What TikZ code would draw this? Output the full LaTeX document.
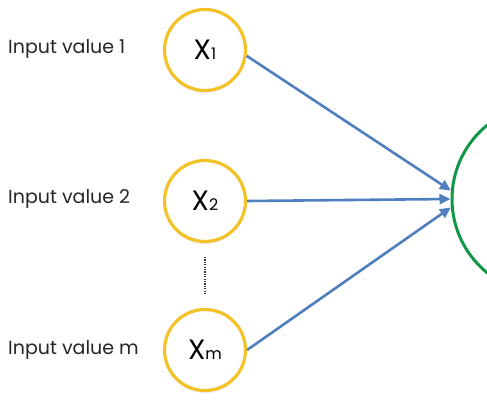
\documentclass[tikz,border=0pt]{standalone}
\usepackage{fontspec}
\setsansfont{Poppins}
\usetikzlibrary{arrows.meta,shadows}
\definecolor{nodeyellow}{RGB}{243,194,40}
\definecolor{arrowblue}{RGB}{79,127,190}
\definecolor{outgreen}{RGB}{18,150,72}
\tikzset{
  inputnode/.style={circle, draw=nodeyellow, line width=3.2pt, fill=white, minimum size=81pt, inner sep=0pt,
    drop shadow={opacity=0.15, shadow xshift=0pt, shadow yshift=-2.5pt}},
  outnode/.style={circle, draw=outgreen, line width=3pt, minimum size=190pt, inner sep=0pt},
  inlabel/.style={anchor=west, inner sep=0pt, font=\sffamily\fontsize{19}{19}\selectfont, text=black!85},
  conn/.style={draw=arrowblue, line width=2.6pt, -{Triangle[length=11pt,width=10pt]}},
  dots/.style={draw=black!80, line width=1.4pt, dash pattern=on 1.2pt off 1.2pt}
}
\newcommand{\xlab}[1]{{\fontsize{28}{28}\selectfont X}{\fontsize{16}{16}\selectfont #1}}
\begin{document}
\begin{tikzpicture}[x=1pt,y=-1pt]
\useasboundingbox (0,0) rectangle (487,402);
\clip (0,0) rectangle (487,402);
\node[inputnode] (x1) at (205,50) {\sffamily\xlab{1}};
\node[inputnode] (x2) at (205,201) {\sffamily\xlab{2}};
\node[inputnode] (xm) at (205,350) {\sffamily\xlab{m}};
\node[outnode] (out) at (547,199) {};
\node[inlabel] (l1) at (8,49) {Input value 1};
\node[inlabel] (l2) at (8,199) {Input value 2};
\node[inlabel] (lm) at (8,350) {Input value m};
\coordinate (d1) at (205,257);
\coordinate (d2) at (205,295);
\draw[dots] (d1) -- (d2);
\draw[conn] (x1.-8) -- (out.175);
\draw[conn] (x2.0) -- (out.180);
\draw[conn] (xm.0) -- (out.185);
\end{tikzpicture}
\end{document}
